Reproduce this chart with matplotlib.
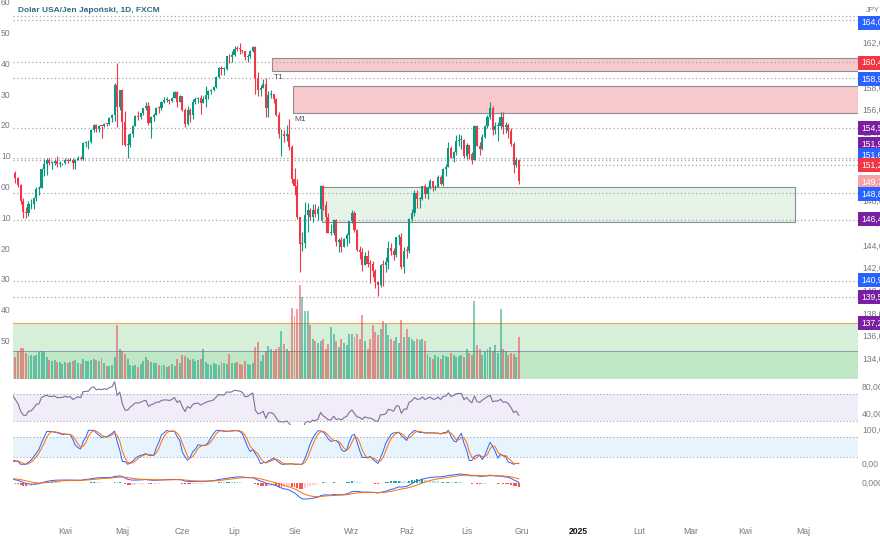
import numpy as np
import pandas as pd
import matplotlib
matplotlib.use("Agg")
import matplotlib.pyplot as plt
from matplotlib.patches import Rectangle
from matplotlib.transforms import blended_transform_factory as blend

W, H = 880, 540
UP, DOWN = "#089981", "#f23645"
GREY = "#787b86"
plt.rcParams["font.family"] = ["Liberation Sans", "DejaVu Sans"]

# closes Jan 2 - Mar 4 2024, off screen, only feed the indicators
warmup_close = [
    142.0, 143.3, 144.6, 144.6, 144.2, 144.5, 145.7, 145.3, 144.9, 145.7, 147.2,
    148.2, 148.1, 148.1, 148.1, 148.4, 147.5, 147.6, 148.1, 147.5, 147.6, 146.9,
    146.4, 148.4, 148.7, 148.2, 148.2, 149.3, 149.3, 149.3, 150.8, 150.6, 149.9,
    150.2, 150.1, 150.0, 150.3, 150.5, 150.5, 150.7, 150.5, 150.6, 149.9,
    150.1, 150.5,
]
first_open = 150.50

# daily bars Mar 5 - Nov 29 2024
close = [
    # mar
    150.00, 149.40, 148.00, 147.05, 146.95, 147.70, 147.75, 148.30, 149.05, 149.15,
    150.85, 151.25, 151.60, 151.40, 151.40, 151.55, 151.30, 151.35, 151.35,
    # apr
    151.65, 151.55, 151.65, 151.35, 151.60, 151.85, 151.75, 153.15, 153.20, 153.25,
    154.25, 154.70, 154.40, 154.65, 154.60, 154.85, 154.80, 155.35, 155.60, 158.30,
    156.35, 157.80,
    # may
    155.00, 152.95, 152.95, 153.90, 154.65, 155.55, 155.45, 155.75, 156.20, 156.45,
    154.90, 155.40, 155.65, 156.25, 156.20, 156.80, 156.95, 156.95, 156.85, 157.15,
    157.65, 156.80, 157.30,
    # jun
    156.10, 154.80, 156.10, 155.60, 156.75, 157.05, 157.15, 156.70, 157.05, 157.40,
    157.70, 157.85, 158.10, 158.95, 159.80, 159.70, 159.70, 160.80, 160.75, 160.90,
    # jul
    161.50, 161.45, 161.40, 161.25, 160.75, 160.80, 161.30, 161.65, 158.85, 157.85,
    158.05, 158.35, 156.20, 157.40, 157.45, 157.05, 155.60, 153.90, 153.90, 153.75,
    153.95, 152.75, 149.95,
    # aug
    149.35, 146.55, 144.20, 144.30, 146.75, 147.20, 146.60, 147.20, 146.85, 147.30,
    149.30, 147.65, 146.60, 145.20, 145.20, 146.30, 144.35, 144.55, 143.95, 144.60,
    144.95, 146.20,
    # sep
    146.95, 145.45, 143.70, 143.45, 142.30, 143.10, 142.45, 142.40, 141.80, 140.85,
    140.60, 142.35, 142.30, 142.60, 143.85, 143.60, 143.20, 144.80, 144.80, 142.20,
    143.60,
    # oct
    143.55, 146.45, 146.95, 148.70, 148.20, 148.20, 149.30, 148.60, 149.15, 149.75,
    149.20, 149.25, 150.10, 149.50, 150.85, 151.05, 152.70, 151.85, 152.30, 153.30,
    153.40, 153.40, 152.00,
    # nov
    152.95, 152.15, 151.60, 154.60, 152.90, 152.65, 153.70, 154.60, 155.45, 156.25,
    154.30, 154.65, 154.65, 155.45, 154.55, 154.75, 154.20, 153.05, 151.15, 151.60,
    149.75,
]
high = [
    150.65, 150.10, 149.50, 148.30, 147.50, 148.00, 148.20, 148.40, 149.20, 149.30,
    150.95, 151.75, 151.85, 151.85, 151.50, 151.70, 151.95, 151.50, 151.40,
    151.80, 151.80, 151.80, 151.80, 151.75, 151.95, 151.95, 153.25, 153.30, 153.40,
    154.40, 154.80, 154.80, 154.70, 154.65, 154.90, 154.90, 155.40, 155.70, 158.45,
    160.20, 157.80,
    157.95, 156.00, 153.90, 154.00, 154.75, 155.65, 155.95, 155.80, 156.25, 156.75,
    156.75, 155.50, 155.80, 156.35, 156.40, 156.90, 157.20, 157.20, 157.00, 157.20,
    157.70, 157.70, 157.40,
    157.30, 156.20, 156.45, 156.20, 157.00, 157.20, 157.20, 157.40, 157.30, 158.20,
    157.80, 157.95, 158.15, 159.05, 159.85, 159.95, 159.85, 160.85, 161.00, 161.30,
    161.70, 161.75, 161.95, 161.40, 161.25, 161.00, 161.35, 161.75, 161.75, 159.45,
    158.30, 158.80, 158.85, 157.75, 157.85, 157.50, 157.15, 155.85, 154.35, 154.30,
    154.70, 155.25, 153.00,
    150.90, 149.95, 146.55, 145.30, 147.90, 147.85, 147.40, 147.75, 147.70, 147.60,
    149.40, 149.40, 148.00, 146.90, 145.95, 146.45, 146.45, 144.75, 144.80, 144.70,
    145.15, 146.25,
    147.20, 147.15, 145.50, 144.00, 143.85, 143.50, 143.70, 142.80, 142.70, 142.00,
    140.95, 142.45, 142.80, 143.00, 144.50, 144.30, 143.85, 144.80, 145.05, 145.20,
    143.90,
    144.05, 146.50, 147.25, 149.00, 148.95, 148.40, 149.35, 149.55, 149.30, 149.95,
    149.80, 149.45, 150.30, 150.30, 150.90, 151.25, 153.20, 152.90, 152.40, 153.85,
    153.90, 153.85, 153.50,
    153.15, 153.00, 152.35, 154.70, 154.70, 153.20, 153.90, 154.75, 155.60, 156.75,
    156.40, 155.00, 155.00, 155.90, 155.90, 155.00, 154.90, 154.50, 153.20, 151.90,
    151.75,
]
low = [
    149.60, 149.20, 147.70, 146.50, 146.50, 146.65, 147.30, 147.30, 148.00, 148.50,
    149.20, 150.20, 150.30, 151.20, 150.80, 151.20, 151.00, 151.00, 151.20,
    151.30, 151.40, 151.50, 150.80, 150.80, 151.60, 151.60, 151.60, 152.75, 152.60,
    153.10, 154.10, 154.10, 154.10, 153.60, 154.55, 154.60, 154.75, 155.00, 155.10,
    154.55, 156.10,
    153.00, 152.90, 151.85, 152.80, 153.70, 154.60, 155.20, 155.30, 155.60, 156.10,
    154.75, 153.60, 155.10, 155.60, 155.80, 156.10, 156.70, 156.80, 156.60, 156.80,
    157.10, 156.35, 156.80,
    155.95, 154.55, 154.75, 155.00, 155.30, 156.60, 156.70, 155.70, 156.65, 156.30,
    157.00, 157.50, 157.70, 158.00, 158.90, 159.20, 159.20, 159.60, 160.25, 160.35,
    160.80, 161.30, 161.00, 161.10, 160.50, 160.30, 160.70, 161.20, 157.45, 157.30,
    157.30, 158.00, 155.40, 155.40, 157.10, 156.70, 155.50, 153.55, 151.95, 153.20,
    153.30, 152.55, 149.60,
    148.50, 146.40, 141.70, 143.55, 143.80, 145.30, 146.30, 146.10, 146.60, 146.30,
    146.30, 147.20, 145.20, 145.15, 144.95, 145.00, 144.00, 143.45, 143.45, 143.90,
    144.00, 144.30,
    146.05, 145.30, 143.55, 142.90, 141.80, 142.50, 142.20, 140.70, 141.30, 140.30,
    139.58, 140.40, 140.45, 141.75, 142.00, 143.20, 142.80, 143.00, 144.10, 142.00,
    141.65,
    142.95, 143.40, 146.20, 146.65, 147.35, 147.35, 148.10, 148.30, 148.20, 149.05,
    148.85, 148.95, 149.20, 149.40, 149.35, 150.25, 151.00, 151.80, 151.45, 152.10,
    152.85, 152.60, 151.80,
    151.75, 151.70, 151.30, 151.70, 152.85, 152.10, 152.50, 153.55, 154.50, 155.30,
    153.85, 153.90, 153.30, 154.40, 153.95, 154.00, 153.55, 152.90, 150.45, 151.05,
    149.50,
]
volume = [
    22, 28, 31, 31, 26, 23, 24, 23, 24, 27, 28, 27, 22, 19, 18, 19, 17, 17, 15,
    17, 16, 17, 18, 19, 16, 15, 20, 18, 18, 19, 20, 19, 18, 21, 16, 13, 13, 14, 22, 54, 30,
    28, 25, 20, 14, 13, 14, 12, 15, 18, 22, 19, 17, 16, 16, 14, 13, 14, 12, 13, 15, 13, 20, 16,
    24, 23, 21, 19, 20, 18, 19, 20, 30, 17, 15, 14, 16, 15, 14, 17, 16, 15, 25, 16,
    16, 17, 15, 14, 18, 15, 14, 16, 32, 37, 18, 24, 28, 33, 30, 28, 30, 32, 48, 35, 30, 28, 71,
    63, 70, 94, 82, 68, 68, 54, 40, 38, 36, 38, 40, 30, 35, 52, 45, 38, 32, 40, 36, 34, 45,
    45, 42, 45, 40, 64, 38, 30, 40, 54, 47, 44, 50, 58, 55, 44, 40, 38, 42, 36, 59, 42,
    50, 42, 40, 38, 40, 39, 40, 38, 25, 22, 20, 24, 22, 20, 24, 23, 22, 26, 24, 22, 23, 24, 22,
    30, 26, 24, 78, 34, 30, 24, 28, 30, 32, 28, 34, 26, 70, 30, 28, 24, 26, 25, 22, 42,
]

month_names = {1: "2025", 2: "Lut", 3: "Mar", 4: "Kwi", 5: "Maj", 6: "Cze", 7: "Lip",
               8: "Sie", 9: "Wrz", 10: "Paź", 11: "Lis", 12: "Gru"}

# horizontal levels drawn on the chart
levels = [164.40, 164.00, 160.35, 158.90, 154.45, 151.85, 151.60, 148.75, 146.35,
          140.90, 139.50]
# right-scale ticks that are not hidden behind a tag
scale_ticks = [162, 158, 156, 154, 148, 146, 144, 142, 140, 138, 136, 134]
# price tags on the right scale: text, price where the tag sits, colour
tags = [
    ("164,0", 163.80, "#2962ff"), ("160,4", 160.25, "#f23645"),
    ("158,9", 158.80, "#2962ff"), ("154,5", 154.46, "#7b1fa2"),
    ("151,9", 153.05, "#7b1fa2"), ("151,6", 152.07, "#2962ff"),
    ("151,2", 151.20, "#f23645"), ("149,7", 149.68, "#f4a3a6"),
    ("148,8", 148.62, "#2962ff"), ("146,4", 146.40, "#7b1fa2"),
    ("140,9", 140.99, "#2962ff"), ("139,5", 139.50, "#7b1fa2"),
    ("137,2", 137.19, "#7b1fa2"),
]
# zones: label, start date, end date (None = open), bottom, top, face colour
zones = [
    ("T1", "2024-07-22", None, 159.50, 160.65, "#f8c9cc"),
    ("M1", "2024-08-01", None, 155.80, 158.20, "#f8c9cc"),
    ("", "2024-08-16", "2025-04-28", 146.15, 149.24, "#e6f4e8"),
]

# ---------------------------------------------------------------
n_warm = len(warmup_close)
c = np.array(close)
o = np.r_[first_open, c[:-1]]
hi = np.maximum(np.array(high), np.maximum(o, c))
lo = np.minimum(np.array(low), np.minimum(o, c))
xs = np.arange(len(c)) + n_warm
dates = pd.bdate_range("2024-01-02", "2025-07-31")
pos = {d: i for i, d in enumerate(dates)}

s = pd.Series(warmup_close + close)
d = s.diff()
gain = d.clip(lower=0).ewm(alpha=1 / 14, adjust=False).mean()
loss = (-d.clip(upper=0)).ewm(alpha=1 / 14, adjust=False).mean()
rsi = 100 - 100 / (1 + gain / loss)
st = (rsi - rsi.rolling(14).min()) / (rsi.rolling(14).max() - rsi.rolling(14).min()) * 100
k = st.rolling(3).mean()
kd = k.rolling(3).mean()
macd = s.ewm(span=12, adjust=False).mean() - s.ewm(span=26, adjust=False).mean()
signal = macd.ewm(span=9, adjust=False).mean()
hist = macd - signal
allx = np.arange(len(s))

fig = plt.figure(figsize=(8.8, 5.4), dpi=100)
fig.patch.set_facecolor("white")
xlim = (n_warm + (13 - 15.45) / 2.608, n_warm + (858 - 15.45) / 2.608)


def add_ax(x0, y0, x1, y1, ylim):
    a = fig.add_axes([x0 / W, 1 - y1 / H, (x1 - x0) / W, (y1 - y0) / H])
    a.set_xlim(*xlim)
    a.set_ylim(*ylim)
    a.set_axis_off()
    return a


ax = add_ax(13, 0, 858, 379, (132.24, 165.8))

# zones
for name, start, end, bot, top, fc in zones:
    x0 = pos[pd.Timestamp(start)] - 0.5
    x1 = pos[pd.Timestamp(end)] if end else xlim[1]
    ax.add_patch(Rectangle((x0, bot), x1 - x0, top - bot, fc=fc, ec="#8a8d96",
                           lw=0.8, zorder=1))
    if name:
        ax.text(x0 + 0.5, bot - 0.25, name, fontsize=6, color="#50535e",
                va="top", ha="left", zorder=4)

# green block under the volume
ax.add_patch(Rectangle((xlim[0], 132.24), xlim[1] - xlim[0], 137.19 - 132.24,
                       fc="#d5efd8", ec="none", zorder=0.5))
ax.add_patch(Rectangle((xlim[0], 132.24), xlim[1] - xlim[0], 134.72 - 132.24,
                       fc="#bfe6c5", ec="none", zorder=0.6))
ax.axhline(137.19, color="#f5a44a", lw=0.8, zorder=1)
ax.axhline(134.72, color="#8c9bb0", lw=0.7, zorder=1)

for lv in levels:
    ax.axhline(lv, color="#a3a6af", lw=0.9, ls=(0, (1, 2)), zorder=2)
ax.hlines(151.15, xs[-1], xlim[1], color="#a3a6af", lw=0.9, ls=(0, (1, 2)), zorder=2)

cols = np.where(c >= o, UP, DOWN)
ax.vlines(xs, lo, hi, color=cols, lw=0.8, zorder=3)
body = np.where(np.abs(c - o) < 0.06, 0.06, c - o)
ax.bar(xs, body, bottom=o, width=0.8, color=cols, lw=0, zorder=3)

axv = ax.twinx()
axv.set_ylim(0, 379)
axv.set_axis_off()
axv.bar(xs, volume, width=0.75, color=cols, alpha=0.5, lw=0)

fig.text(18 / W, 1 - 10 / H, "Dolar USA/Jen Japoński, 1D, FXCM", fontsize=6.0,
         fontweight="bold", color="#2c6a82", va="center", ha="left")

# right price scale
rtr = blend(fig.transFigure, ax.transData)
for p in scale_ticks:
    ax.text(862 / W, p, f"{p},0", transform=rtr, fontsize=6.2, color=GREY,
            va="center", ha="left", clip_on=False, zorder=5)
for txt, p, col in tags:
    ax.text(861 / W, p, txt, transform=rtr, fontsize=6.2, color="white",
            va="center", ha="left", clip_on=False, zorder=6,
            bbox=dict(boxstyle="square,pad=0.3", fc=col, ec="none"))
fig.text(866 / W, 1 - 10 / H, "JPY", fontsize=5.5, color=GREY, va="center")

# left scale remnants
for i, t in enumerate(["60", "50", "40", "30", "20", "10", "00", "10", "20", "30", "40", "50"]):
    fig.text(1 / W, 1 - (2.7 + 30.8 * i) / H, t, fontsize=6.2, color=GREY, va="center")

# RSI
axr = add_ax(13, 379, 858, 425, (24.1, 92.3))
axr.axhspan(30, 70, color="#7e57c2", alpha=0.1, lw=0)
for lv in (30, 70):
    axr.axhline(lv, color="#a3a6af", lw=0.8, ls=(0, (1, 2)))
axr.plot(allx, rsi, color="#7e6f9c", lw=0.8)

# Stoch RSI
axs = add_ax(13, 425, 858, 468, (-10.9, 115.6))
axs.axhspan(20, 80, color="#2196f3", alpha=0.1, lw=0)
for lv in (20, 80):
    axs.axhline(lv, color="#a3a6af", lw=0.8, ls=(0, (1, 2)))
axs.plot(allx, k, color="#2962ff", lw=0.7)
axs.plot(allx, kd, color="#ff6d00", lw=0.7)

# MACD
axm = add_ax(13, 468, 858, 512, (-6.1, 3.26))
hv = hist.values
prev = np.r_[0, hv[:-1]]
hcol = np.where(hv >= 0, np.where(hv > prev, "#26a69a", "#b2dfdb"),
                np.where(hv < prev, "#ff5252", "#ffcdd2"))
axm.bar(allx, hv, width=0.72, color=hcol, lw=0)
axm.plot(allx, macd, color="#2962ff", lw=0.7)
axm.plot(allx, signal, color="#ff6d00", lw=0.7)

for a, vals in ((axr, [(80, "80,00"), (40, "40,00")]),
                (axs, [(100, "100,0"), (0, "0,00")]),
                (axm, [(0, "0,000")])):
    tr = blend(fig.transFigure, a.transData)
    for v, t in vals:
        a.text(862 / W, v, t, transform=tr, fontsize=6.2, color=GREY,
               va="center", ha="left", clip_on=False)

# time axis
ttr = blend(axm.transData, fig.transFigure)
for i in range(1, len(dates)):
    if dates[i].month != dates[i - 1].month and xlim[0] + 3 < i < xlim[1] - 3:
        lab = month_names[dates[i].month]
        bold = lab == "2025"
        axm.text(i, 1 - 531 / H, lab, transform=ttr, fontsize=6.2,
                 color="#131722" if bold else GREY,
                 fontweight="bold" if bold else "normal",
                 ha="center", va="center", clip_on=False)

fig.savefig("out.png", dpi=100, facecolor="white")
